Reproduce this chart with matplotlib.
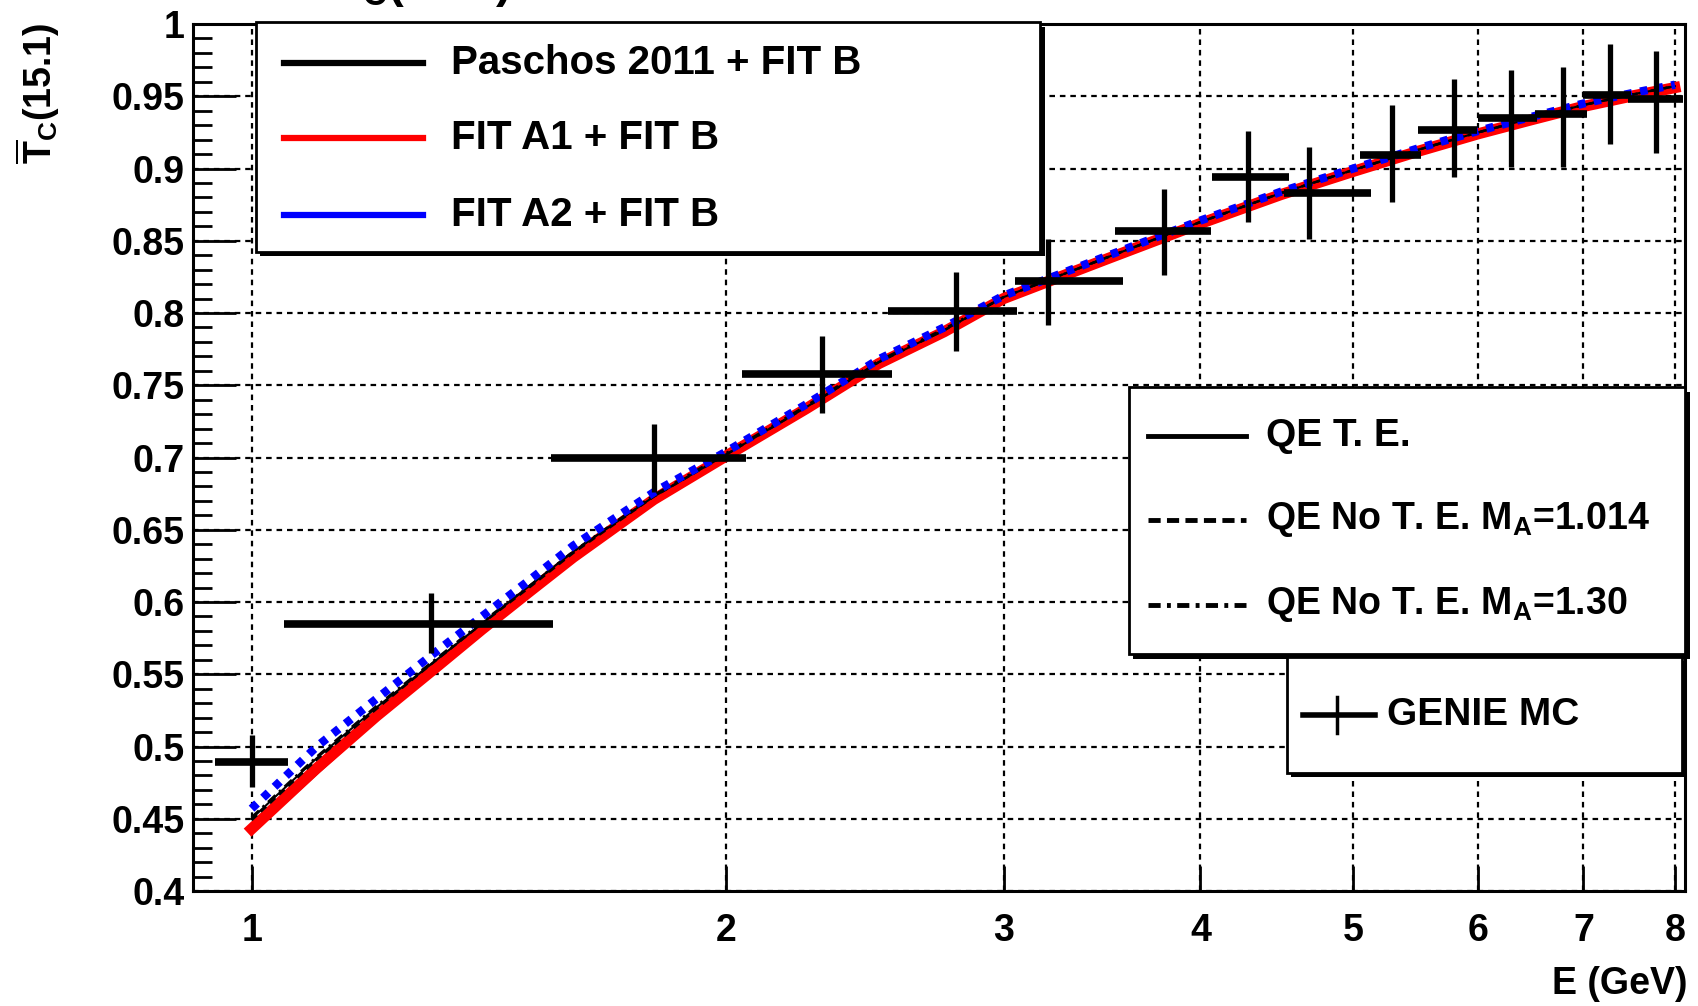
import numpy as np
import matplotlib.pyplot as plt
from matplotlib.patches import Rectangle
from matplotlib.lines import Line2D
from matplotlib.ticker import FixedLocator, MultipleLocator, NullLocator, FixedFormatter

plt.rcParams['font.family'] = ['Liberation Sans Narrow', 'Liberation Sans', 'DejaVu Sans']
plt.rcParams['font.weight'] = 'bold'
plt.rcParams['mathtext.fontset'] = 'custom'
plt.rcParams['mathtext.rm'] = 'Liberation Sans:bold'
plt.rcParams['mathtext.it'] = 'Liberation Sans:bold'
plt.rcParams['mathtext.bf'] = 'Liberation Sans:bold'

# theory curves (energy in GeV)
e_curve = [1.0, 1.1, 1.2, 1.3, 1.4, 1.5, 1.6, 1.8, 2.0, 2.25, 2.5, 2.75, 3.0,
           3.5, 4.0, 4.5, 5.0, 5.5, 6.0, 6.5, 7.0, 7.5, 8.0]
paschos_fitb = [0.443, 0.484, 0.521, 0.552, 0.581, 0.607, 0.631, 0.671, 0.701, 0.734,
                0.765, 0.787, 0.810, 0.838, 0.862, 0.882, 0.898, 0.912, 0.924,
                0.934, 0.943, 0.950, 0.956]
fit_a1_fitb = [0.443, 0.485, 0.521, 0.552, 0.581, 0.607, 0.631, 0.671, 0.701, 0.734,
               0.765, 0.787, 0.810, 0.838, 0.862, 0.882, 0.898, 0.912, 0.924,
               0.934, 0.943, 0.950, 0.956]
fit_a2_fitb = [0.457, 0.500, 0.533, 0.563, 0.590, 0.615, 0.639, 0.676, 0.704, 0.737,
               0.768, 0.790, 0.812, 0.840, 0.864, 0.884, 0.900, 0.914, 0.926,
               0.936, 0.945, 0.952, 0.958]
qe_te = [0.450, 0.492, 0.527, 0.557, 0.585, 0.611, 0.635, 0.673, 0.702, 0.735,
         0.766, 0.788, 0.811, 0.839, 0.863, 0.883, 0.899, 0.913, 0.925,
         0.935, 0.944, 0.951, 0.957]
qe_note_1014 = [0.449, 0.491, 0.526, 0.557, 0.585, 0.610, 0.634, 0.673, 0.702, 0.735,
                0.766, 0.788, 0.811, 0.839, 0.863, 0.883, 0.899, 0.913, 0.925,
                0.935, 0.944, 0.951, 0.957]
qe_note_130 = [0.451, 0.493, 0.528, 0.558, 0.586, 0.611, 0.635, 0.674, 0.703, 0.736,
               0.767, 0.789, 0.811, 0.839, 0.863, 0.883, 0.899, 0.913, 0.925,
               0.935, 0.944, 0.951, 0.957]

# GENIE MC points
genie_e = [1.00, 1.30, 1.80, 2.30, 2.80, 3.20, 3.79, 4.29, 4.69, 5.29, 5.79, 6.30, 6.79, 7.28, 7.78]
genie_y = [0.4895, 0.585, 0.700, 0.758, 0.8015, 0.822, 0.857, 0.894, 0.883, 0.9095,
           0.927, 0.935, 0.938, 0.951, 0.948]
genie_elo = [0.9485, 1.048, 1.548, 2.048, 2.535, 3.05, 3.53, 4.07, 4.52, 5.05, 5.50,
             6.00, 6.52, 7.00, 7.47]
genie_ehi = [1.054, 1.553, 2.06, 2.55, 3.06, 3.57, 4.06, 4.55, 5.13, 5.52, 5.99, 6.54,
             7.04, 7.50, 8.10]
genie_ylo = [0.472, 0.5645, 0.676, 0.7305, 0.7736, 0.792, 0.826, 0.863, 0.851, 0.877,
             0.894, 0.901, 0.901, 0.917, 0.911]
genie_yhi = [0.508, 0.606, 0.723, 0.784, 0.8287, 0.851, 0.886, 0.926, 0.915, 0.944,
             0.962, 0.968, 0.970, 0.986, 0.981]

x_ticks = [1, 2, 3, 4, 5, 6, 7, 8]
x_ticklabels = ['1', '2', '3', '4', '5', '6', '7', '8']
y_ticks = [0.4, 0.45, 0.5, 0.55, 0.6, 0.65, 0.7, 0.75, 0.8, 0.85, 0.9, 0.95, 1.0]
y_ticklabels = ['0.4', '0.45', '0.5', '0.55', '0.6', '0.65', '0.7', '0.75', '0.8',
                '0.85', '0.9', '0.95', '1']

fig = plt.figure(figsize=(16.99, 10.06), dpi=100)
ax = fig.add_axes([0.1136, 0.1143, 0.8782, 0.8618])
ax.set_xscale('log')
ax.set_xlim(0.918, 8.12)
ax.set_ylim(0.4, 1.0)

ax.plot(e_curve, paschos_fitb, color='black', lw=6, zorder=3)
ax.plot(e_curve, fit_a1_fitb, color='red', lw=8, zorder=4)
ax.plot(e_curve, qe_te, color='black', lw=1.5, zorder=5)
ax.plot(e_curve, qe_note_1014, color='black', lw=1.8, ls=(0, (3, 2)), zorder=5)
ax.plot(e_curve, qe_note_130, color='black', lw=1.8, ls=(0, (4, 2, 1, 2)), zorder=5)
ax.plot(e_curve, fit_a2_fitb, color='blue', lw=6, ls=(0, (0.9, 1.0)), zorder=6)

e = np.array(genie_e)
y = np.array(genie_y)
ax.errorbar(e, y, xerr=[e - np.array(genie_elo), np.array(genie_ehi) - e],
            fmt='none', ecolor='black', elinewidth=5.5, capsize=0, zorder=7)
ax.errorbar(e, y, yerr=[y - np.array(genie_ylo), np.array(genie_yhi) - y],
            fmt='none', ecolor='black', elinewidth=3.8, capsize=0, zorder=7)

ax.xaxis.set_major_locator(FixedLocator(x_ticks))
ax.xaxis.set_major_formatter(FixedFormatter(x_ticklabels))
ax.xaxis.set_minor_locator(NullLocator())
ax.yaxis.set_major_locator(FixedLocator(y_ticks))
ax.yaxis.set_major_formatter(FixedFormatter(y_ticklabels))
ax.yaxis.set_minor_locator(MultipleLocator(0.01))

ax.grid(True, which='major', color='black', lw=1.6, ls=(0, (2.5, 2.2)))
ax.tick_params(axis='y', which='major', direction='in', length=31, width=2,
               labelsize=27, pad=6)
ax.tick_params(axis='y', which='minor', direction='in', length=14, width=2)
ax.tick_params(axis='x', which='major', direction='in', length=18, width=2,
               labelsize=27, pad=16)
for lab in ax.get_xticklabels() + ax.get_yticklabels():
    lab.set_fontweight('bold')
for sp in ax.spines.values():
    sp.set_linewidth(2.2)


def legend_box(x0, y0, x1, y1):
    ax.add_patch(Rectangle((x0 + 0.003, y0 - 0.005), x1 - x0, y1 - y0, transform=ax.transAxes,
                           facecolor='black', edgecolor='none', clip_on=False, zorder=9))
    ax.add_patch(Rectangle((x0, y0), x1 - x0, y1 - y0, transform=ax.transAxes,
                           facecolor='white', edgecolor='black', lw=2, clip_on=False, zorder=10))


def legend_line(x0, x1, yy, **kw):
    ax.add_line(Line2D([x0, x1], [yy, yy], transform=ax.transAxes, clip_on=False,
                       zorder=11, **kw))


def legend_text(xx, yy, s, size=29):
    ax.text(xx, yy, s, transform=ax.transAxes, fontsize=size, fontweight='bold',
            ha='left', va='center', zorder=11, clip_on=False)


# legend 1
legend_box(0.042, 0.737, 0.568, 1.002)
for yy, col, lab in [(0.955, 'black', 'Paschos 2011 + FIT B'),
                     (0.868, 'red', 'FIT A1 + FIT B'),
                     (0.780, 'blue', 'FIT A2 + FIT B')]:
    legend_line(0.061, 0.154, yy, color=col, lw=4.5)
    legend_text(0.173, yy, lab)

# legend 2
legend_box(0.627, 0.273, 1.0, 0.581)
legend_line(0.640, 0.706, 0.525, color='black', lw=3.5)
legend_text(0.719, 0.525, 'QE T. E.', 28)
legend_line(0.640, 0.706, 0.428, color='black', lw=3.5, ls=(0, (2.5, 1.3)))
legend_text(0.719, 0.428, r'QE No T. E. M$_{\mathrm{A}}$=1.014', 27)
legend_line(0.640, 0.706, 0.330, color='black', lw=3.5, ls=(0, (2.5, 1.3, 0.8, 1.3)))
legend_text(0.719, 0.330, r'QE No T. E. M$_{\mathrm{A}}$=1.30', 27)

# legend 3
legend_box(0.733, 0.136, 0.998, 0.270)
legend_line(0.744, 0.792, 0.203, color='black', lw=4)
ax.add_line(Line2D([0.767, 0.767], [0.182, 0.224], transform=ax.transAxes, color='black',
                   lw=2.5, clip_on=False, zorder=11))
legend_text(0.800, 0.203, 'GENIE MC', 28)

fig.text(0.993, 0.022, 'E (GeV)', ha='right', va='center', fontsize=27, fontweight='bold')
fig.text(0.0224, 0.978, r'$\overline{\mathrm{T}}_{\mathrm{C}}$(15.1)', rotation=90,
         ha='center', va='top', fontsize=27, fontweight='bold')
fig.text(0.196, 1.002, r'$\overline{\mathrm{T}}_{\mathrm{C}}$(15.1)', ha='left',
         va='baseline', fontsize=34, fontweight='bold')

fig.savefig('out.png', dpi=100)
